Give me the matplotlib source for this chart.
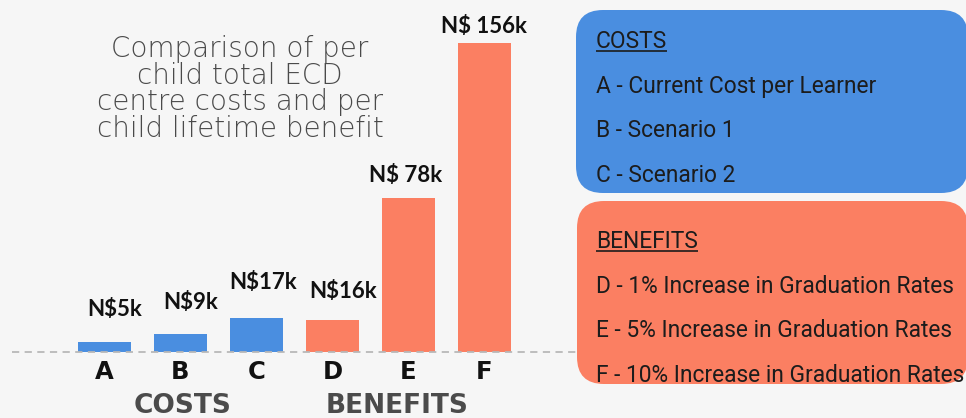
import matplotlib
matplotlib.use('Agg')
import matplotlib.pyplot as plt
import matplotlib.transforms as mtrans
from matplotlib.patches import FancyBboxPatch

# ---------------- data ----------------
categories = ['A', 'B', 'C', 'D', 'E', 'F']
values_k = [5, 9, 17, 16, 78, 156]          # N$ thousands per child
value_labels = ['N$5k', 'N$9k', 'N$17k', 'N$16k', 'N$ 78k', 'N$ 156k']
bar_groups = ['COSTS', 'COSTS', 'COSTS', 'BENEFITS', 'BENEFITS', 'BENEFITS']
group_names = ['COSTS', 'BENEFITS']
cost_items = ['A - Current Cost per Learner', 'B - Scenario 1', 'C - Scenario 2']
benefit_items = ['D - 1% Increase in Graduation Rates',
                 'E - 5% Increase in Graduation Rates',
                 'F - 10% Increase in Graduation Rates']
title_lines = ['Comparison of per', 'child total ECD',
               'centre costs and per', 'child lifetime benefit']

# ---------------- style ----------------
W, H = 966, 418
BG = '#f6f6f6'
BLUE = '#4a8ee0'
CORAL = '#fb7f62'
group_colors = {'COSTS': BLUE, 'BENEFITS': CORAL}
# label offsets in pixels (dx, baseline above bar top)
label_dx = [10.5, 10, 7, 10.5, -2.5, -1]
label_dy = [26, 25, 29, 22, 16, 10]
group_dx = {'COSTS': 2, 'BENEFITS': -11}

fig = plt.figure(figsize=(W / 100, H / 100), dpi=100)
fig.patch.set_facecolor(BG)

# bar axes mapped to the figure pixels
ax = fig.add_axes([0, 0, 1, 1])
ax.set_xlim(-1.375, 11.336)
ax.set_ylim(-33.3, 177.8)
ax.axis('off')

# overlay axes in pixel coordinates (y downward)
ov = fig.add_axes([0, 0, 1, 1], zorder=3)
ov.set_xlim(0, W)
ov.set_ylim(H, 0)
ov.axis('off')
ov.patch.set_alpha(0)

xs = list(range(len(categories)))
colors = [group_colors[g] for g in bar_groups]
ax.bar(xs, values_k, width=0.7, color=colors, zorder=2)
ax.axhline(0, xmin=12 / W, xmax=600 / W, color='#b8b8b8', lw=1.3,
           ls=(0, (4, 3)), zorder=3)

px = 0.72  # points per pixel at dpi 100
for x, v, lab, dx, dy in zip(xs, values_k, value_labels, label_dx, label_dy):
    ax.annotate(lab, (x, v), xytext=(dx * px, dy * px), textcoords='offset points',
                ha='center', va='baseline', fontsize=16, fontweight='bold',
                family='Lato', color='#111111', zorder=4)

blend = mtrans.blended_transform_factory(ax.transData, ov.transData)
for x, c in zip(xs, categories):
    ax.text(x, 379, c, transform=blend, ha='center', va='baseline',
            fontsize=17.5, fontweight='bold', family='DejaVu Sans', color='#111111')

for g in group_names:
    gx = [x for x, b in zip(xs, bar_groups) if b == g]
    cx = sum(gx) / len(gx)
    off = mtrans.offset_copy(blend, fig=fig, x=group_dx[g] * px, y=0, units='points')
    ax.text(cx, 413, g, transform=off, ha='center', va='baseline',
            fontsize=19, fontweight='bold', family='DejaVu Sans', color='#4b4b4b')

for i, line in enumerate(title_lines):
    ov.text(240, 57 + i * 26.7, line, ha='center', va='baseline', fontsize=20,
            fontweight='light', family='DejaVu Sans', color='#4a4a4a')

# legend boxes
ov.add_patch(FancyBboxPatch((576, 10), 392, 183,
                            boxstyle='round,pad=0,rounding_size=27',
                            fc=BLUE, ec='none', zorder=1))
ov.add_patch(FancyBboxPatch((577, 201), 391, 183,
                            boxstyle='round,pad=0,rounding_size=27',
                            fc=CORAL, ec='none', zorder=1))

TXT = '#1c1c1c'
heads = []
for top, head, items in [(48, 'COSTS', cost_items), (248, 'BENEFITS', benefit_items)]:
    t = ov.text(596, top, head, ha='left', va='baseline', fontsize=16.4,
                family='Roboto', color=TXT, zorder=2)
    heads.append((t, top))
    for j, it in enumerate(items):
        ov.text(596, top + 44.7 * (j + 1), it, ha='left', va='baseline',
                fontsize=16.4, family='Roboto', color=TXT, zorder=2)

fig.canvas.draw()
r = fig.canvas.get_renderer()
inv = ov.transData.inverted()
for t, top in heads:
    bb = t.get_window_extent(r)
    x0 = inv.transform((bb.x0, 0))[0]
    x1 = inv.transform((bb.x1, 0))[0]
    ov.plot([x0, x1], [top + 2.5, top + 2.5], color=TXT, lw=1.2, zorder=2,
            solid_capstyle='butt')

fig.savefig('out.png', dpi=100, facecolor=BG)
